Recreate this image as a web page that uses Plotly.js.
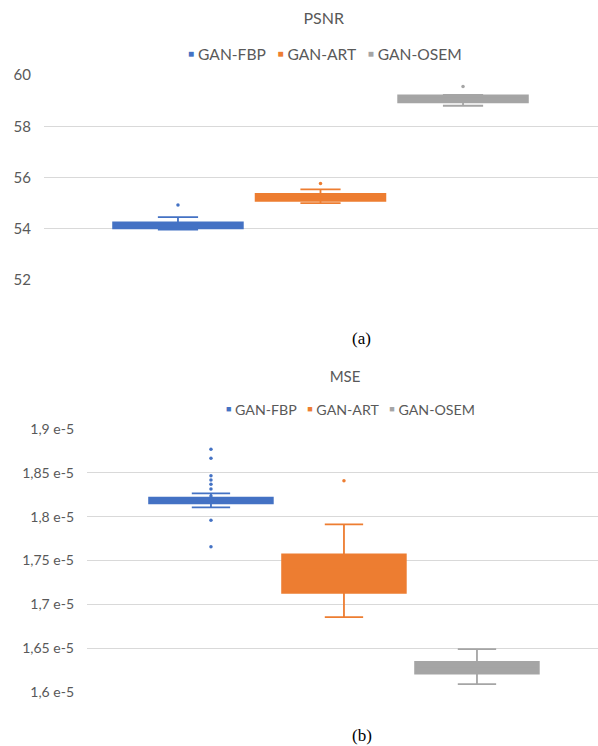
<!DOCTYPE html>
<html>
<head>
<meta charset="utf-8">
<script src="https://cdn.plot.ly/plotly-3.0.1.min.js"></script>
<style>
html,body{margin:0;padding:0;background:#fff;}
#a{width:598px;height:360px;}
#b{width:598px;height:386px;}
</style>
</head>
<body>
<div id="a"></div>
<div id="b"></div>
<script>
// ---------- data ----------
const series = ["GAN-FBP", "GAN-ART", "GAN-OSEM"];
const colors = ["#4472C4", "#ED7D31", "#A5A5A5"];

// PSNR (dB)
const psnrLower  = [53.97, 55.00, 58.80];
const psnrQ1     = [54.02, 55.09, 58.93];
const psnrMedian = [54.12, 55.22, 59.08];
const psnrQ3     = [54.25, 55.36, 59.20];
const psnrUpper  = [54.45, 55.54, 59.22];
const psnrPoints = [[54.93], [55.77], [59.55]];
const psnrTicks  = [52, 54, 56, 58, 60];

// MSE (units of 1e-5)
const mseLower  = [1.8106, 1.6854, 1.6089];
const mseQ1     = [1.8152, 1.7132, 1.6211];
const mseMedian = [1.8180, 1.7402, 1.6265];
const mseQ3     = [1.8216, 1.7569, 1.6344];
const mseUpper  = [1.8266, 1.7912, 1.6489];
const msePoints = [[1.8768, 1.8666, 1.8467, 1.8418, 1.8369, 1.8315, 1.8235, 1.7960, 1.7657], [1.8410], []];
const mseTickVals = [1.6, 1.65, 1.7, 1.75, 1.8, 1.85, 1.9];
const mseTickText = ["1,6 e-5", "1,65 e-5", "1,7 e-5", "1,75 e-5", "1,8 e-5", "1,85 e-5", "1,9 e-5"];

// ---------- builders ----------
const FONT = "Lato, 'Open Sans', sans-serif";
const GREY = "#595959";

function buildTraces(lower, q1, med, q3, upper, pts, boxWidth) {
  const traces = [];
  series.forEach((name, i) => {
    traces.push({
      type: "box", name: name, x: [name],
      lowerfence: [lower[i]], q1: [q1[i]], median: [med[i]], q3: [q3[i]], upperfence: [upper[i]],
      width: boxWidth, whiskerwidth: 0.31,
      fillcolor: colors[i], line: {color: colors[i], width: 1.8},
      boxpoints: false, showlegend: false, hoverinfo: "skip"
    });
    if (pts[i].length) {
      traces.push({
        type: "scatter", mode: "markers",
        x: pts[i].map(() => name), y: pts[i],
        marker: {color: colors[i], size: 3.5},
        showlegend: false, hoverinfo: "skip"
      });
    }
  });
  return traces;
}

function legendText(sqSize) {
  return series.map((s, i) =>
    `<span style="color:${colors[i]};font-size:${sqSize}px;baseline-shift:3px">■</span>&nbsp;${s}`
  ).join("&nbsp;&nbsp;&nbsp;");
}

function baseLayout(o) {
  return {
    width: 598, height: o.height,
    margin: {l: o.l, r: 0, t: o.t, b: o.b, pad: 0},
    paper_bgcolor: "#fff", plot_bgcolor: "#fff",
    font: {family: FONT, size: 14, color: GREY},
    boxmode: "overlay",
    showlegend: false,
    title: {text: o.title, font: {family: FONT, size: o.titleSize, color: GREY},
            x: o.titleX, xref: "paper", xanchor: "center",
            y: o.titleY, yref: "container", yanchor: "middle"},
    xaxis: {type: "category", categoryorder: "array", categoryarray: series,
            range: o.xRange, showticklabels: false, showgrid: false, zeroline: false,
            showline: false, ticks: "", fixedrange: true},
    yaxis: Object.assign({range: o.yRange, showgrid: true, gridcolor: "#D9D9D9", gridwidth: 1,
            zeroline: false, showline: false, ticks: "", ticklabelstandoff: 12,
            tickfont: {family: FONT, size: o.tickSize, color: GREY}, fixedrange: true}, o.yExtra),
    annotations: [
      {text: legendText(o.sq), xref: "paper", yref: "paper", x: o.legX, y: o.legY,
       xanchor: "center", yanchor: "middle", showarrow: false,
       font: {family: FONT, size: o.legSize, color: GREY}},
      {text: o.caption, xref: "paper", yref: "paper", x: o.capX, y: o.capY,
       xanchor: "center", yanchor: "middle", showarrow: false,
       font: {family: "'Liberation Serif', 'Times New Roman', serif", size: 17, color: "#000"}}
    ]
  };
}

const layoutA = baseLayout({
  height: 360, l: 44, t: 75, b: 80, title: "PSNR", titleSize: 16, titleX: 0.505, titleY: 1 - 18/360,
  legX: 0.508, legY: 1.102, legSize: 15.6, sq: 10, tickSize: 15,
  xRange: [-0.94, 2.947], yRange: [52, 60],
  yExtra: {tickvals: psnrTicks, ticktext: psnrTicks.map(String)},
  caption: "(a)", capX: 0.574, capY: -0.283
});
const layoutB = baseLayout({
  height: 386, l: 87, t: 69, b: 54, title: "MSE", titleSize: 15, titleX: 0.505, titleY: 1 - 17/386,
  legX: 0.515, legY: 1.075, legSize: 14.2, sq: 9, tickSize: 14,
  xRange: [-0.932, 2.91], yRange: [1.6, 1.9],
  yExtra: {tickvals: mseTickVals, ticktext: mseTickText},
  caption: "(b)", capX: 0.538, capY: -0.167
});

Plotly.newPlot("a", buildTraces(psnrLower, psnrQ1, psnrMedian, psnrQ3, psnrUpper, psnrPoints, 0.91), layoutA, {displayModeBar: false, staticPlot: true});
Plotly.newPlot("b", buildTraces(mseLower, mseQ1, mseMedian, mseQ3, mseUpper, msePoints, 0.93), layoutB, {displayModeBar: false, staticPlot: true});
</script>
</body>
</html>
